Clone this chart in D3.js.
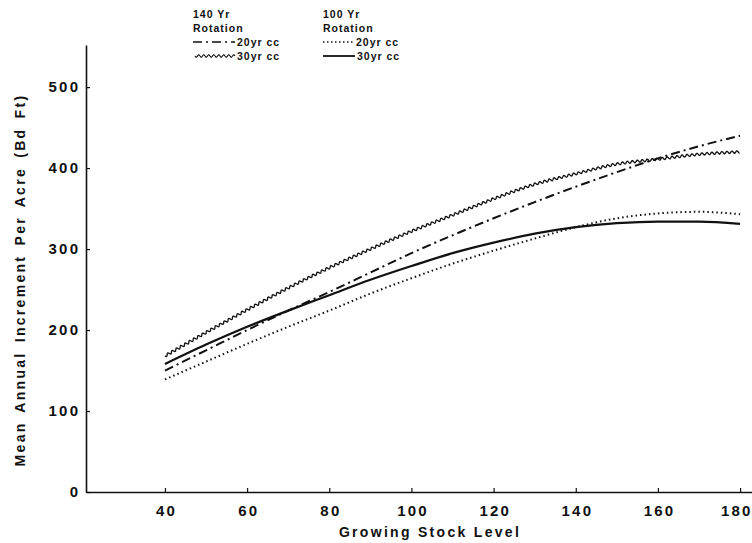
<!DOCTYPE html>
<html><head><meta charset="utf-8">
<script src="https://cdn.jsdelivr.net/npm/d3@7"></script>
<style>
body{margin:0;background:#fff;}
text{font-family:"Liberation Sans",Arial,sans-serif;fill:#111;}
</style></head>
<body><svg id="c" width="752" height="543"></svg>
<script>
const growingStock = [40,50,60,70,80,90,100,110,120,130,140,150,160,170,180];
const r140_20 = [150,175,200,224,247,271,295,317,338,358,377,395,412,427,440];
const r140_30 = [168,197,225,252,277,300,322,342,362,380,393,405,411,417,420];
const r100_20 = [139,161,183,204,224,245,264,282,298,313,327,338,344,346,343];
const r100_30 = [158,182,204,224,243,262,279,295,308,319,327,332,334,334,331];
const xTicks = [40,60,80,100,120,140,160,180];
const yTicks = [0,100,200,300,400,500];

const svg = d3.select("#c");
const x = d3.scaleLinear().domain([20.78,182.9]).range([86,752]);
const y = d3.scaleLinear().domain([0,552]).range([492,45]);

// axes
const xAxis = svg.append("g").attr("transform","translate(0,492)")
  .call(d3.axisBottom(x).tickValues(xTicks).tickSizeOuter(0).tickSizeInner(-4).tickPadding(13));
const yAxis = svg.append("g").attr("transform","translate(86,0)")
  .call(d3.axisLeft(y).tickValues(yTicks).tickSizeOuter(0).tickSizeInner(-4).tickPadding(8));
[xAxis,yAxis].forEach(g=>{
  g.select(".domain").attr("stroke","#111").attr("stroke-width",1.6);
  g.selectAll(".tick line").attr("stroke","#111").attr("stroke-width",1.2);
  g.selectAll(".tick text").attr("font-size",15).attr("font-weight","bold")
   .attr("letter-spacing",2.2)
   .attr("font-family","'Liberation Sans',Arial,sans-serif").attr("fill","#111");
});
xAxis.selectAll(".tick text").attr("dx",1.1);
xAxis.selectAll(".tick").filter(d=>d===180).select("text")
  .attr("text-anchor","end").attr("dx",12);
yAxis.selectAll(".tick text").attr("dx",2.2);

svg.append("text").attr("x",430).attr("y",537).attr("text-anchor","middle")
  .attr("font-size",14).attr("font-weight","bold").attr("letter-spacing",2.3)
  .text("Growing Stock Level");
svg.append("text").attr("transform","translate(25,280) rotate(-90)").attr("text-anchor","middle")
  .attr("font-size",14).attr("font-weight","bold").attr("letter-spacing",2.3).attr("word-spacing",3)
  .text("Mean Annual Increment Per Acre (Bd Ft)");

const line = d3.line().curve(d3.curveMonotoneX).x((d,i)=>x(growingStock[i])).y(d=>y(d));

function wavy(sel, dPath, amp, wl){
  const tmp = svg.append("path").attr("d",dPath).attr("fill","none");
  const node = tmp.node(); const L = node.getTotalLength();
  const pts=[];
  for(let s=0;s<=L;s+=0.5){
    const p=node.getPointAtLength(s);
    const p2=node.getPointAtLength(Math.min(L,s+0.5)), p1=node.getPointAtLength(Math.max(0,s-0.5));
    let dx=p2.x-p1.x, dy=p2.y-p1.y; const n=Math.hypot(dx,dy)||1; dx/=n; dy/=n;
    const off=amp*Math.sin(2*Math.PI*s/wl);
    pts.push([p.x - dy*off, p.y + dx*off]);
  }
  tmp.remove();
  return sel.append("path").attr("d", d3.line()(pts));
}

const g = svg.append("g").attr("fill","none").attr("stroke","#111");
g.append("path").attr("d",line(r140_20)).attr("stroke-width",2).attr("stroke-dasharray","9,4,2,4");
wavy(g, line(r140_30), 1.2, 5).attr("stroke-width",1.3);
g.append("path").attr("d",line(r100_20)).attr("stroke-width",2).attr("stroke-dasharray","1.5,3");
g.append("path").attr("d",line(r100_30)).attr("stroke-width",2.2);

// legend
const legend = svg.append("g");
const lt = (xx,yy,t)=>legend.append("text").attr("x",xx).attr("y",yy).attr("font-size",10.5)
  .attr("font-weight","bold").attr("letter-spacing",1).text(t);
lt(193,18,"140  Yr"); lt(193,32,"Rotation");
lt(237,46,"20yr cc"); lt(237,60,"30yr cc");
lt(323,18,"100  Yr"); lt(323,32,"Rotation");
lt(356,46,"20yr cc"); lt(357,60,"30yr cc");
const lg = legend.append("g").attr("fill","none").attr("stroke","#111");
lg.append("path").attr("d",d3.line()([[193,42],[235,42]])).attr("stroke-width",1.6).attr("stroke-dasharray","9,4,2,4");
wavy(lg, d3.line()([[195,56],[235,56]]), 1.2, 5).attr("stroke-width",1.1);
lg.append("path").attr("d",d3.line()([[323,42],[354,42]])).attr("stroke-width",1.6).attr("stroke-dasharray","1.5,2.5");
lg.append("path").attr("d",d3.line()([[323,56],[355,56]])).attr("stroke-width",1.8);
</script></body></html>
